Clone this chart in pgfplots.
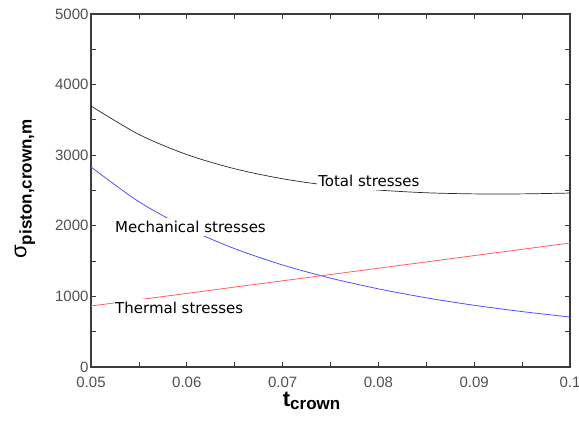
\documentclass[border=0pt]{standalone}
\usepackage{fontspec}
\setmainfont{Liberation Sans}
\newfontfamily\notefont{DejaVu Sans}
\usepackage{pgfplots}
\pgfplotsset{compat=1.18}

\definecolor{axisgray}{RGB}{60,60,60}
\definecolor{ticktext}{RGB}{80,80,80}
\definecolor{mechblue}{RGB}{80,80,255}
\definecolor{thermred}{RGB}{255,95,95}
\definecolor{totalgray}{RGB}{40,40,40}

\begin{document}
\begin{tikzpicture}
\begin{axis}[
    scale only axis,
    width=479pt, height=353pt,
    xmin=0.05, xmax=0.1,
    ymin=0, ymax=5000,
    xtick={0.05,0.06,0.07,0.08,0.09,0.1},
    xticklabels={0.05,0.06,0.07,0.08,0.09,0.1},
    minor xtick={0.055,0.065,0.075,0.085,0.095},
    ytick={0,1000,2000,3000,4000,5000},
    minor ytick={500,1500,2500,3500,4500},
    /pgf/number format/set thousands separator={},
    /pgf/number format/assume math mode=true,
    tick align=inside,
    major tick length=5pt,
    minor tick length=5pt,
    tick style={axisgray, line width=0.8pt},
    axis line style={axisgray, line width=1.4pt},
    ticklabel style={font=\fontsize{15}{17}\selectfont, text=ticktext},
    xticklabel style={yshift=-6pt},
    yticklabel style={xshift=1pt},
    xlabel={\fontsize{22}{24}\selectfont\bfseries t\textsubscript{\fontsize{17}{19}\selectfont crown}},
    ylabel={\fontsize{22}{24}\selectfont σ\textsubscript{\bfseries\fontsize{17}{19}\selectfont piston,crown,m}},
    xlabel style={at={(axis description cs:0.461,-0.095)}, anchor=center},
    ylabel style={at={(axis description cs:-0.138,0.505)}, anchor=center},
]
\addplot[totalgray, line width=0.7pt, smooth] coordinates {
(0.05,3697)(0.055,3294)(0.06,3009)(0.065,2808)(0.07,2666)(0.075,2569)
(0.08,2506)(0.085,2468)(0.09,2452)(0.095,2452)(0.1,2464)};
\addplot[mechblue, line width=0.8pt, smooth] coordinates {
(0.05,2833)(0.055,2341)(0.06,1967)(0.065,1676)(0.07,1445)(0.075,1259)
(0.08,1107)(0.085,980)(0.09,874)(0.095,785)(0.1,708)};
\addplot[thermred, line width=0.8pt] coordinates {
(0.05,864)(0.055,953)(0.06,1042)(0.065,1132)(0.07,1221)(0.075,1310)
(0.08,1399)(0.085,1488)(0.09,1578)(0.095,1667)(0.1,1756)};
\node[fill=white, inner xsep=1pt, inner ysep=3pt, anchor=west, font=\notefont\fontsize{15}{17}\selectfont]
  at (axis cs:0.0736,2635) {Total stresses};
\node[fill=white, inner xsep=1pt, inner ysep=3pt, anchor=west, font=\notefont\fontsize{15}{17}\selectfont]
  at (axis cs:0.0524,1983) {Mechanical stresses};
\node[fill=white, inner xsep=1pt, inner ysep=3pt, anchor=west, font=\notefont\fontsize{15}{17}\selectfont]
  at (axis cs:0.0524,836) {Thermal stresses};
\end{axis}
\pgfresetboundingbox
\path (current axis.south west) ++(-91pt,-73pt) rectangle ([shift={(9pt,14pt)}]current axis.north east);
\end{tikzpicture}
\end{document}
